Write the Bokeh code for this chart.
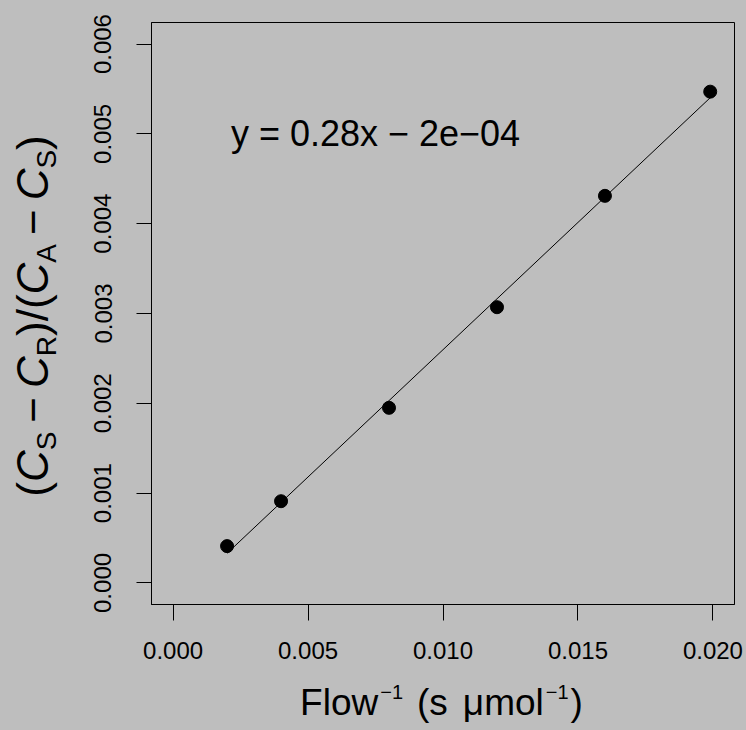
import math
import numpy as np
from bokeh.plotting import figure
from bokeh.layouts import column, row
from bokeh.models import Range1d, FixedTicker, PrintfTickFormatter, Label
from bokeh.embed import file_html
from bokeh.resources import INLINE

# ---- data ----
inv_flow = [0.002, 0.004, 0.008, 0.012, 0.016, 0.0199]
ratio = [0.00041, 0.00091, 0.00195, 0.00307, 0.00431, 0.00547]
x_ticks = [0.000, 0.005, 0.010, 0.015, 0.020]
y_ticks = [0.000, 0.001, 0.002, 0.003, 0.004, 0.005, 0.006]
x_limits = [0.0, 0.02]
y_limits = [0.0, 0.006]
equation = "y = 0.28x \u2212 2e\u221204"
eq_pos = [0.0075, 0.005]

# ---- style / geometry ----
BG = "#bebebe"
FONT = "Liberation Sans"
TOTAL_W, TOTAL_H = 746, 730
YT_W = 70          # width of the strip holding the y title
MAIN_H = 680       # height of the row holding the plot
B_TOP, B_BOT = 22, 76
MID = 0.3465       # centre of the font box above the baseline (em)

def expand(lim, f=0.04):
    d = (lim[1] - lim[0]) * f
    return lim[0] - d, lim[1] + d

p = figure(width=TOTAL_W - YT_W, height=MAIN_H, output_backend="svg", toolbar_location=None,
           x_range=Range1d(*expand(x_limits)), y_range=Range1d(*expand(y_limits)),
           min_border_left=81, min_border_right=12, min_border_top=B_TOP, min_border_bottom=B_BOT)
p.background_fill_color = BG
p.border_fill_color = BG
p.outline_line_color = "black"
p.outline_line_width = 1
p.xgrid.visible = False
p.ygrid.visible = False

for ax, ticks, tick_len, standoff in ((p.xaxis[0], x_ticks, 16, 21), (p.yaxis[0], y_ticks, 15, 25)):
    ax.ticker = FixedTicker(ticks=ticks)
    ax.formatter = PrintfTickFormatter(format="%.3f")
    ax.major_tick_out = tick_len
    ax.major_tick_in = 0
    ax.minor_tick_line_color = None
    ax.major_tick_line_color = "black"
    ax.axis_line_color = "black"
    ax.major_label_text_font = FONT
    ax.major_label_text_font_size = "24px"
    ax.major_label_text_color = "black"
    ax.major_label_standoff = standoff
p.yaxis[0].major_label_orientation = "parallel"

# fitted line and points
slope, intercept = np.polyfit(inv_flow, ratio, 1)
xl = [min(inv_flow), max(inv_flow)]
yl = [slope * v + intercept for v in xl]
p.line(xl, yl, line_color="black", line_width=1)
p.scatter(inv_flow, ratio, size=13, fill_color="black", line_color="black")

p.add_layout(Label(x=eq_pos[0], y=eq_pos[1], text=equation, text_align="center",
                   text_baseline="middle", text_font=FONT, text_font_size="36px",
                   text_color="black"))

# ---- title strips (figures with no axes; data coords = page px) ----
def strip(w, h, xr, yr):
    f = figure(width=w, height=h, output_backend="svg", toolbar_location=None,
               x_range=Range1d(*xr), y_range=Range1d(*yr),
               x_axis_location=None, y_axis_location=None,
               min_border=0, min_border_left=0, min_border_right=0,
               min_border_top=0, min_border_bottom=0)
    f.background_fill_color = BG
    f.border_fill_color = BG
    f.outline_line_color = None
    f.xgrid.visible = False
    f.ygrid.visible = False
    return f

W = {'(': 333, ')': 333, 'C': 722, 'S': 667, 'R': 722, 'A': 667, '\u2212': 584, '/': 278,
     ' ': 278, 'F': 611, 'l': 222, 'o': 556, 'w': 722, 's': 500, '\u03bc': 576, 'm': 833, '1': 556}

def tw(s, size):
    return sum(W[c] for c in s) / 1000.0 * size

# x title: Flow^-1 (s umol^-1)   (strip spans page y MAIN_H..TOTAL_H)
xfig = strip(TOTAL_W, TOTAL_H - MAIN_H, (0, TOTAL_W), (TOTAL_H, MAIN_H))
XF, XS, XBASE, XSUP = 37, 20, 715, 17
x_pieces = [("Flow", XF, 0, 2), ("\u22121", XS, XSUP, 14), ("(s", XF, 0, 15),
            ("\u03bcmol", XF, 0, 2), ("\u22121", XS, XSUP, 2), (")", XF, 0, 0)]
total = sum(tw(t, s) + g for t, s, _, g in x_pieces)
pos = 441 - total / 2
for t, s, dy, g in x_pieces:
    xfig.add_layout(Label(x=pos, y=XBASE - dy - MID * s, text=t, text_font=FONT,
                          text_font_size=f"{s}px", text_color="black",
                          text_align="left", text_baseline="middle"))
    pos += tw(t, s) + g

# y title: (C_S - C_R)/(C_A - C_S)   (strip frame is aligned with the plot frame)
yfig = strip(YT_W, MAIN_H, (0, YT_W), (MAIN_H - B_BOT, B_TOP))
YF, YS, G, YBASE, YSUB = 44, 28, 9, 47, 9
y_pieces = [("(", YF, 0, False, 0), ("C", YF, 0, True, 0), ("S", YS, YSUB, False, G),
            ("\u2212", YF, 0, False, G), ("C", YF, 0, True, 0), ("R", YS, YSUB, False, 0),
            (")", YF, 0, False, 0), ("/", YF, 0, False, 0), ("(", YF, 0, False, 0),
            ("C", YF, 0, True, 0), ("A", YS, YSUB, False, G), ("\u2212", YF, 0, False, G),
            ("C", YF, 0, True, 0), ("S", YS, YSUB, False, 0), (")", YF, 0, False, 0)]
total = sum(tw(t, s) + g for t, s, _, _, g in y_pieces)
pos = 315.5 + total / 2  # page y where the title starts (bottom end)
for t, s, dx, it, g in y_pieces:
    yfig.add_layout(Label(x=YBASE + dx - MID * s, y=pos, text=t, text_font=FONT,
                          text_font_size=f"{s}px", text_color="black",
                          text_font_style="italic" if it else "normal",
                          angle=math.pi / 2, text_align="left", text_baseline="middle"))
    pos -= tw(t, s) + g

layout = column(row(yfig, p, spacing=0), xfig, spacing=0)
layout.styles = {"background-color": BG}
open("out.html", "w").write(file_html(layout, INLINE))
